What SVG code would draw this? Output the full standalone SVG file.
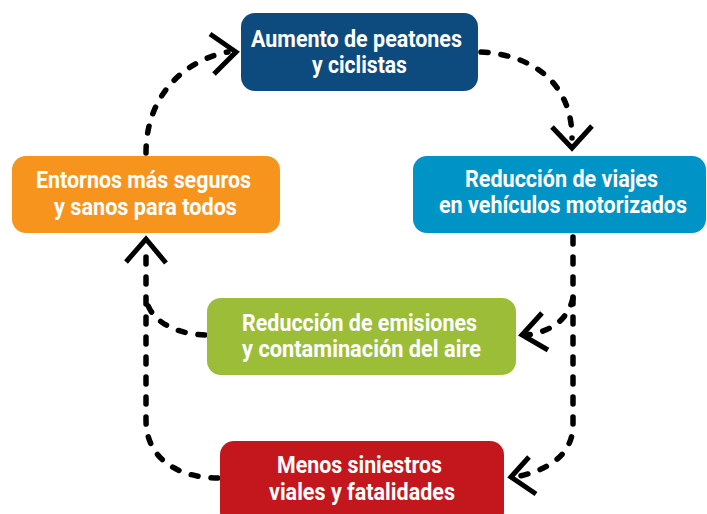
<svg xmlns="http://www.w3.org/2000/svg" width="707" height="514" viewBox="0 0 707 514">
<style>
.lbl{font-family:Roboto,"Liberation Sans",sans-serif;font-weight:700;font-size:23.5px;fill:#ffffff;}
.dash{fill:none;stroke:#000;stroke-width:5.5;stroke-dasharray:7 13;stroke-linecap:round;}
.head{fill:none;stroke:#000;stroke-width:5;stroke-linejoin:miter;}
</style>
<rect width="707" height="514" fill="#ffffff"/>
<g id="connectors">
<path class="dash" d="M481,52 C535,55 572,85 572,138"/>
<path class="head" d="M552,127 L572,148 L592,126"/>
<path class="dash" d="M146,153 C146,95 185,60 228,52"/>
<path class="head" d="M210,34 L236,52 L214,74"/>
<path class="dash" d="M573,237 L573,425 C573,450 555,468 520,476"/>
<path class="head" d="M529,457 L511,477 L536,494"/>
<path class="dash" d="M573,298 C568,318 555,330 528,335"/>
<path class="head" d="M542,313 L522,335 L548,350"/>
<path class="dash" d="M205,335 C172,334 147,318 146,296"/>
<path class="dash" d="M218,478 C180,478 146,460 146,420 L146,248"/>
<path class="head" d="M126,262 L146,239 L166,263"/>
</g>
<g id="n-aumento">
<rect x="241" y="13" width="237" height="78" rx="14" fill="#0d4a7e"/>
<text class="lbl" x="251" y="47" textLength="211" lengthAdjust="spacingAndGlyphs">Aumento de peatones</text>
<text class="lbl" x="312" y="73" textLength="95" lengthAdjust="spacingAndGlyphs">y ciclistas</text>
</g>
<g id="n-reduccion-viajes">
<rect x="413" y="156" width="293" height="77" rx="14" fill="#0093c5"/>
<text class="lbl" x="465" y="187" textLength="193" lengthAdjust="spacingAndGlyphs">Reducción de viajes</text>
<text class="lbl" transform="matrix(0.86 0 0 1 439 213)" x="0" y="0" textLength="288.4" lengthAdjust="spacingAndGlyphs">en vehículos motorizados</text>
</g>
<g id="n-entornos">
<rect x="12" y="156" width="268" height="77" rx="14" fill="#f7941e"/>
<text class="lbl" x="36" y="188" textLength="215" lengthAdjust="spacingAndGlyphs">Entornos más seguros</text>
<text class="lbl" x="54" y="215" textLength="183" lengthAdjust="spacingAndGlyphs">y sanos para todos</text>
</g>
<g id="n-emisiones">
<rect x="207" y="298" width="309" height="77" rx="14" fill="#9bbd38"/>
<text class="lbl" x="242" y="331" textLength="235" lengthAdjust="spacingAndGlyphs">Reducción de emisiones</text>
<text class="lbl" x="242" y="357" textLength="239" lengthAdjust="spacingAndGlyphs">y contaminación del aire</text>
</g>
<g id="n-siniestros">
<rect x="220" y="441" width="284" height="85" rx="14" fill="#c3171d"/>
<text class="lbl" x="277" y="473" textLength="165" lengthAdjust="spacingAndGlyphs">Menos siniestros</text>
<text class="lbl" x="269" y="500" textLength="186" lengthAdjust="spacingAndGlyphs">viales y fatalidades</text>
</g>
</svg>
